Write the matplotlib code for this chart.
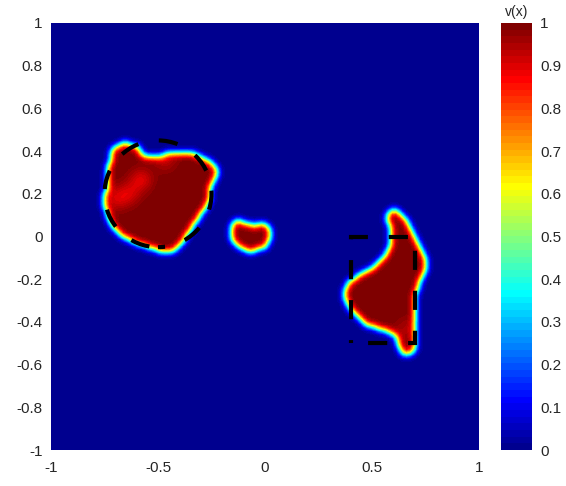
import numpy as np
import matplotlib
matplotlib.use("Agg")
import matplotlib.pyplot as plt
from matplotlib.path import Path
from matplotlib.colors import ListedColormap
from matplotlib.patches import Circle, Rectangle

plt.rcParams["font.family"] = ["Liberation Sans", "DejaVu Sans"]

# --- data: blob outlines (x, y in [-1, 1]) ----------------------------------
BLOB_BIG_X = [-0.732, -0.724, -0.693, -0.662, -0.615, -0.592, -0.576, -0.545,
              -0.506, -0.459, -0.397, -0.350, -0.304, -0.272, -0.242, -0.226,
              -0.234, -0.249, -0.257, -0.265, -0.288, -0.335, -0.366, -0.397,
              -0.428, -0.475, -0.522, -0.569, -0.631, -0.678, -0.709, -0.732,
              -0.748, -0.756, -0.748, -0.740]
BLOB_BIG_Y = [0.350, 0.397, 0.429, 0.436, 0.429, 0.413, 0.382, 0.366,
              0.374, 0.390, 0.397, 0.390, 0.374, 0.358, 0.335, 0.304,
              0.265, 0.249, 0.210, 0.163, 0.116, 0.054, 0.007, -0.040,
              -0.071, -0.079, -0.063, -0.048, -0.024, 0.007, 0.038, 0.069,
              0.116, 0.163, 0.226, 0.288]

BLOB_SMALL_X = [-0.148, -0.117, -0.078, -0.047, 0.000, 0.023, 0.027, 0.008,
                -0.023, -0.070, -0.117, -0.148, -0.164]
BLOB_SMALL_Y = [0.062, 0.074, 0.054, 0.049, 0.059, 0.030, -0.009, -0.048,
                -0.063, -0.071, -0.063, -0.032, 0.015]

BLOB_RIGHT_X = [0.576, 0.607, 0.639, 0.662, 0.678, 0.701, 0.724, 0.748,
                0.756, 0.756, 0.732, 0.717, 0.709, 0.717, 0.709, 0.701,
                0.712, 0.717, 0.701, 0.670, 0.639, 0.631, 0.615, 0.584,
                0.537, 0.491, 0.444, 0.405, 0.382, 0.374, 0.389, 0.421,
                0.460, 0.507, 0.545, 0.576, 0.592, 0.592, 0.584, 0.569]
BLOB_RIGHT_Y = [0.109, 0.124, 0.112, 0.085, 0.046, -0.001, -0.048, -0.079,
                -0.118, -0.165, -0.204, -0.251, -0.297, -0.344, -0.391, -0.430,
                -0.469, -0.516, -0.547, -0.563, -0.547, -0.508, -0.477, -0.453,
                -0.438, -0.422, -0.391, -0.352, -0.313, -0.274, -0.227, -0.196,
                -0.172, -0.149, -0.118, -0.079, -0.032, 0.015, 0.062, 0.085]

# lighter patches inside the blobs (centre x, centre y, drop in value)
SPOT_X = [-0.584, -0.700, -0.640, -0.470, 0.664]
SPOT_Y = [0.265, 0.175, 0.200, 0.360, -0.438]
SPOT_DROP = [0.12, 0.10, 0.10, 0.08, 0.06]

# reference shapes
CIRCLE_CENTER = (-0.5, 0.2)
CIRCLE_R = 0.25
SQUARE_X = (0.4, 0.7)
SQUARE_Y = (-0.5, 0.0)

CBAR_TICKS = [0, 0.1, 0.2, 0.3, 0.4, 0.5, 0.6, 0.7, 0.8, 0.9, 1]
CBAR_LABELS = ["0", "0.1", "0.2", "0.3", "0.4", "0.5", "0.6", "0.7", "0.8", "0.9", "1"]
AX_TICKS = [-1, -0.5, 0, 0.5, 1]
AX_LABELS = ["-1", "-0.5", "0", "0.5", "1"]
AY_TICKS = [-1, -0.8, -0.6, -0.4, -0.2, 0, 0.2, 0.4, 0.6, 0.8, 1]
AY_LABELS = ["-1", "-0.8", "-0.6", "-0.4", "-0.2", "0", "0.2", "0.4", "0.6", "0.8", "1"]


def matlab_jet(n=64):
    m = int(np.ceil(n / 4))
    u = np.concatenate([np.arange(1, m + 1) / m, np.ones(m - 1), np.arange(m, 0, -1) / m])
    g = int(np.ceil(m / 2)) - (n % 4 == 1) + np.arange(1, len(u) + 1)
    r = g + m
    b = g - m
    g = g[g <= n]
    r = r[r <= n]
    b = b[b >= 1]
    J = np.zeros((n, 3))
    J[r - 1, 0] = u[:len(r)]
    J[g - 1, 1] = u[:len(g)]
    J[b - 1, 2] = u[len(u) - len(b):]
    return ListedColormap(J)


def blur(a, sigma):
    rad = int(4 * sigma) + 1
    k = np.exp(-0.5 * (np.arange(-rad, rad + 1) / sigma) ** 2)
    k /= k.sum()
    a = np.apply_along_axis(lambda v: np.convolve(v, k, mode="same"), 0, a)
    a = np.apply_along_axis(lambda v: np.convolve(v, k, mode="same"), 1, a)
    return a


# --- field on a coarse mesh, shaded with interpolation ---------------------
N = 121
xs = np.linspace(-1, 1, N)
XX, YY = np.meshgrid(xs, xs)
pts = np.column_stack([XX.ravel(), YY.ravel()])

mask = np.zeros(N * N, dtype=bool)
for bx, by in [(BLOB_BIG_X, BLOB_BIG_Y), (BLOB_SMALL_X, BLOB_SMALL_Y),
               (BLOB_RIGHT_X, BLOB_RIGHT_Y)]:
    mask |= Path(np.column_stack([bx, by])).contains_points(pts)
field = mask.reshape(N, N).astype(float)

for sx, sy, d in zip(SPOT_X, SPOT_Y, SPOT_DROP):
    field -= d * np.exp(-((XX - sx) ** 2 + (YY - sy) ** 2) / (2 * 0.035 ** 2)) * field

field = np.clip(blur(field, 1.0), 0, 1)

# --- figure ----------------------------------------------------------------
fig = plt.figure(figsize=(5.66, 4.86), dpi=100)
ax = fig.add_axes([51 / 566, 36 / 486, 428 / 566, 427 / 486])
cax = fig.add_axes([501 / 566, 36 / 486, 31 / 566, 427 / 486])

cmap = matlab_jet(64)
im = ax.imshow(field, extent=[-1, 1, -1, 1], origin="lower", cmap=cmap,
               vmin=0, vmax=1, interpolation="bilinear", aspect="auto")

# dash pattern: ~19 px on, ~21 px off at lw 3
ax.add_patch(Circle(CIRCLE_CENTER, CIRCLE_R, fill=False, edgecolor="black",
                    linewidth=3, linestyle=(2.9, (4.6, 5.0))))
ax.add_patch(Rectangle((SQUARE_X[0], SQUARE_Y[0]), SQUARE_X[1] - SQUARE_X[0],
                       SQUARE_Y[1] - SQUARE_Y[0], fill=False, edgecolor="black",
                       linewidth=3, linestyle=(5.5, (4.6, 5.0))))

ax.set_xlim(-1, 1)
ax.set_ylim(-1, 1)
ax.set_xticks(AX_TICKS)
ax.set_xticklabels(AX_LABELS)
ax.set_yticks(AY_TICKS)
ax.set_yticklabels(AY_LABELS)
ax.tick_params(length=0, labelsize=11, colors="#262626")
ax.tick_params(axis="x", pad=8)
ax.tick_params(axis="y", pad=6)
for s in ax.spines.values():
    s.set_visible(False)

cb = fig.colorbar(im, cax=cax, ticks=CBAR_TICKS)
cb.ax.set_yticklabels(CBAR_LABELS)
cb.ax.tick_params(length=0, labelsize=11, colors="#262626", pad=6)
cb.outline.set_visible(False)
cax.set_title("v(x)", fontsize=10, pad=5, color="#262626")

fig.savefig("out.png", dpi=100)
